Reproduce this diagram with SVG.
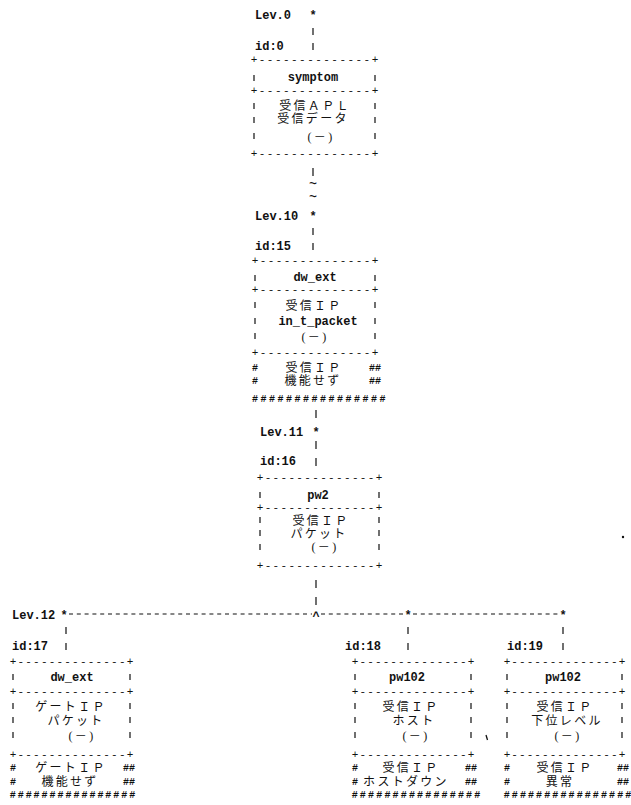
<svg xmlns="http://www.w3.org/2000/svg" width="631" height="805" viewBox="0 0 631 805">
<style>
.m{font-family:"Liberation Mono","DejaVu Sans Mono",monospace;font-size:12px;font-weight:bold;fill:#111}
.c{text-anchor:middle}
.e{text-anchor:end}
.bd{font-family:"Liberation Mono","DejaVu Sans Mono",monospace;font-size:11px;fill:#111}
.h{font-family:"Liberation Mono","DejaVu Sans Mono",monospace;font-size:10px;font-weight:bold;fill:#111}
.t{font-family:"Liberation Mono","DejaVu Sans Mono",monospace;font-size:11px;font-weight:bold;fill:#111;text-anchor:middle}
.j{font-family:"Liberation Serif","Noto Sans CJK JP",sans-serif;font-size:12px;letter-spacing:2.3px;fill:#111;text-anchor:middle}
.bar{stroke:#111;stroke-width:1.2;fill:none}
.dash{stroke:#111;stroke-width:1.2;stroke-dasharray:4 3.8;fill:none}
</style>
<rect width="631" height="805" fill="#fff"/>

<g id="connectors">
<text class="m c" x="313" y="19">*</text>
<text class="m c" x="313" y="219.5">*</text>
<text class="m c" x="316" y="435.5">*</text>
<text class="m c" x="64" y="618.5">*</text>
<text class="m c" x="316" y="620">^</text>
<text class="m c" x="408" y="618.5">*</text>
<text class="m c" x="563" y="618.5">*</text>
<text class="t" x="313" y="186.5" textLength="8" lengthAdjust="spacingAndGlyphs">~</text>
<text class="t" x="313" y="200" textLength="8" lengthAdjust="spacingAndGlyphs">~</text>
<path class="bar" d="M313 28v7M313 43v7M313 168v8M313 228v7M313 243v7M316 410v8M316 441v8M316 458v8M316 580v8M316 597v8M66 627v7M66 643v7M408 627v7M408 643v7M563 627v7M563 643v7"/>
<path class="dash" d="M69 614H312M321 614H404M413 614H559"/>
</g>

<g id="n0">
<text class="m" x="255" y="19">Lev.0</text>
<text class="m" x="255" y="50">id:0</text>
<text class="bd" x="250.7" y="63.3" textLength="127.6" lengthAdjust="spacing">+--------------+</text>
<text class="m c" x="313" y="80.5">symptom</text>
<text class="bd" x="250.7" y="93.8" textLength="127.6" lengthAdjust="spacing">+--------------+</text>
<text class="j" x="315" y="109.5">受信ＡＰＬ</text>
<text class="j" x="313" y="122.5">受信データ</text>
<text class="j" x="321" y="141">(－)</text>
<text class="bd" x="250.7" y="157.3" textLength="127.6" lengthAdjust="spacing">+--------------+</text>
<path class="bar" d="M254 75v6M375 75v6M254 103v6M375 103v6M254 117v6M375 117v6M254 133v6M375 133v6"/>
</g>

<g id="n15">
<text class="m" x="255" y="219.5">Lev.10</text>
<text class="m" x="255" y="250">id:15</text>
<text class="bd" x="251.7" y="264.3" textLength="126.6" lengthAdjust="spacing">+--------------+</text>
<text class="m c" x="315" y="280.5">dw_ext</text>
<text class="bd" x="251.7" y="293.3" textLength="126.6" lengthAdjust="spacing">+--------------+</text>
<text class="j" x="314" y="309.5">受信ＩＰ</text>
<text class="m c" x="318" y="324.5">in_t_packet</text>
<text class="j" x="315" y="341">(－)</text>
<text class="bd" x="251.7" y="356.3" textLength="126.6" lengthAdjust="spacing">+--------------+</text>
<path class="bar" d="M255 275v6M375 275v6M255 302v6M375 302v6M255 318v6M375 318v6M255 333v6M375 333v6"/>
<text class="h c" x="255" y="370.8">#</text>
<text class="j" x="314" y="371.5">受信ＩＰ</text>
<text class="h e" x="381" y="370.8">##</text>
<text class="h c" x="255" y="384">#</text>
<text class="j" x="313" y="385">機能せず</text>
<text class="h e" x="381" y="384">##</text>
<text class="h" x="252" y="401.8" textLength="133.6" lengthAdjust="spacing">################</text>
</g>

<g id="n16">
<text class="m" x="260" y="435.5">Lev.11</text>
<text class="m" x="260" y="465">id:16</text>
<text class="bd" x="256.7" y="481.3" textLength="125.6" lengthAdjust="spacing">+--------------+</text>
<text class="m c" x="318" y="499">pw2</text>
<text class="bd" x="256.7" y="511.3" textLength="125.6" lengthAdjust="spacing">+--------------+</text>
<text class="j" x="321" y="524.5">受信ＩＰ</text>
<text class="j" x="319" y="537.5">パケット</text>
<text class="j" x="325" y="551">(－)</text>
<text class="bd" x="256.7" y="569.3" textLength="125.6" lengthAdjust="spacing">+--------------+</text>
<path class="bar" d="M260 492v6M379 492v6M260 517v6M379 517v6M260 530v6M379 530v6M260 544v6M379 544v6"/>
</g>

<g id="n17">
<text class="m" x="12" y="618.5">Lev.12</text>
<text class="m" x="12" y="650">id:17</text>
<text class="bd" x="9.7" y="665.3" textLength="123.6" lengthAdjust="spacing">+--------------+</text>
<text class="m c" x="72" y="680.5">dw_ext</text>
<text class="bd" x="9.7" y="695.3" textLength="123.6" lengthAdjust="spacing">+--------------+</text>
<text class="j" x="71" y="711">ゲートＩＰ</text>
<text class="j" x="76" y="725">パケット</text>
<text class="j" x="82" y="740">(－)</text>
<text class="bd" x="9.7" y="758.3" textLength="123.6" lengthAdjust="spacing">+--------------+</text>
<path class="bar" d="M13 674v6M130 674v6M13 703v6M130 703v6M13 717v6M130 717v6M13 732v6M130 732v6"/>
<text class="h c" x="13" y="771">#</text>
<text class="j" x="71" y="772">ゲートＩＰ</text>
<text class="h e" x="135" y="771">##</text>
<text class="h c" x="13" y="785">#</text>
<text class="j" x="70" y="786">機能せず</text>
<text class="h e" x="135" y="785">##</text>
<text class="h" x="9.7" y="797.8" textLength="125.6" lengthAdjust="spacing">################</text>
</g>

<g id="n18">
<text class="m" x="345" y="650">id:18</text>
<text class="bd" x="351.7" y="665.3" textLength="122.6" lengthAdjust="spacing">+--------------+</text>
<text class="m c" x="407" y="681">pw102</text>
<text class="bd" x="351.7" y="695.3" textLength="122.6" lengthAdjust="spacing">+--------------+</text>
<text class="j" x="411" y="711">受信ＩＰ</text>
<text class="j" x="414" y="725">ホスト</text>
<text class="j" x="416" y="740">(－)</text>
<text class="bd" x="351.7" y="758.3" textLength="122.6" lengthAdjust="spacing">+--------------+</text>
<path class="bar" d="M355 674v6M471 674v6M355 703v6M471 703v6M355 717v6M471 717v6M355 732v6M471 732v6"/>
<text class="h c" x="355" y="771">#</text>
<text class="j" x="411" y="772">受信ＩＰ</text>
<text class="h e" x="477" y="771">##</text>
<text class="h c" x="355" y="785">#</text>
<text class="j" x="406" y="786">ホストダウン</text>
<text class="h e" x="477" y="785">##</text>
<text class="h" x="351.7" y="797.8" textLength="128.6" lengthAdjust="spacing">################</text>
</g>

<g id="n19">
<text class="m" x="507" y="650">id:19</text>
<text class="bd" x="503.7" y="665.3" textLength="121.6" lengthAdjust="spacing">+--------------+</text>
<text class="m c" x="563" y="681">pw102</text>
<text class="bd" x="503.7" y="695.3" textLength="121.6" lengthAdjust="spacing">+--------------+</text>
<text class="j" x="565" y="711">受信ＩＰ</text>
<text class="j" x="567" y="725">下位レベル</text>
<text class="j" x="568" y="740">(－)</text>
<text class="bd" x="503.7" y="758.3" textLength="121.6" lengthAdjust="spacing">+--------------+</text>
<path class="bar" d="M507 674v6M622 674v6M507 703v6M622 703v6M507 717v6M622 717v6M507 732v6M622 732v6"/>
<text class="h c" x="507" y="771">#</text>
<text class="j" x="565" y="772">受信ＩＰ</text>
<text class="h e" x="629" y="771">##</text>
<text class="h c" x="507" y="785">#</text>
<text class="j" x="560" y="786">異常</text>
<text class="h e" x="629" y="785">##</text>
<text class="h" x="503.7" y="797.8" textLength="127.6" lengthAdjust="spacing">################</text>
</g>

<path d="M486 735l1.5 5" stroke="#111" stroke-width="1.3"/>
<circle cx="623" cy="537" r="1.2" fill="#111"/>
</svg>
